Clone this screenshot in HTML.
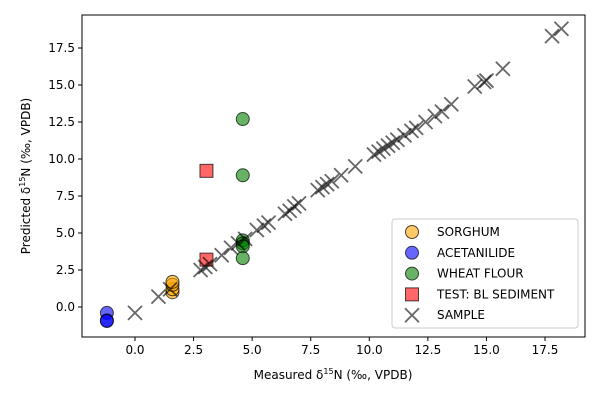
<!DOCTYPE html>
<html><head><meta charset="utf-8"><style>
body{margin:0;background:#fff;font-family:"Liberation Sans","DejaVu Sans",sans-serif}
svg text{font-family:"DejaVu Sans","Liberation Sans",sans-serif;font-size:12px;fill:#000}
</style></head><body>
<svg id="chart" width="600" height="400">
<g id="plot"></g>
</svg>
<script>
const sampleX=[0,1.0,1.5,2.8,3.0,3.2,3.7,4.1,4.4,4.7,5.2,5.5,5.7,6.4,6.6,6.8,7.0,7.8,8.0,8.2,8.4,8.8,9.4,10.2,10.4,10.6,10.8,11.0,11.2,11.5,11.8,12.0,12.4,12.8,13.1,13.5,14.5,14.9,15.0,15.7,17.8,18.2];
const sampleY=[-0.4,0.7,1.2,2.5,2.7,2.9,3.5,4.0,4.3,4.6,5.2,5.5,5.7,6.3,6.5,6.8,7.0,7.9,8.1,8.3,8.5,8.9,9.5,10.3,10.5,10.7,10.9,11.1,11.3,11.6,11.9,12.1,12.5,12.9,13.2,13.7,14.9,15.2,15.3,16.1,18.3,18.8];
const sorghumX=[1.6,1.6,1.6,1.6], sorghumY=[1.0,1.2,1.5,1.7];
const acetX=[-1.2,-1.2,-1.2], acetY=[-0.4,-0.9,-0.95];
const wheatX=[4.6,4.6,4.6,4.6,4.6,4.6], wheatY=[12.7,8.9,4.5,4.3,4.1,3.3];
const testX=[3.05,3.05], testY=[9.2,3.2];
const xTicks=[0,2.5,5,7.5,10,12.5,15,17.5], yTicks=[0,2.5,5,7.5,10,12.5,15,17.5];
const L=82,R=585,T=15,B=337;
const sx=v=>135+v*23.43, sy=v=>307-v*14.8;
const g=document.getElementById('plot'), NS='http://www.w3.org/2000/svg';
function mk(tag,a,p){const e=document.createElementNS(NS,tag);for(const k in a)e.setAttribute(k,a[k]);(p||g).appendChild(e);return e;}
function circ(x,y,c,p,name){const e=mk('circle',{cx:x,cy:y,r:6.5,fill:c,'fill-opacity':0.6,stroke:'#000','stroke-opacity':0.7,'stroke-width':1},p);return e;}
function sq(x,y,p,name){const e=mk('rect',{x:x-6.5,y:y-6.5,width:13,height:13,fill:'#ff0000','fill-opacity':0.6,stroke:'#000','stroke-opacity':0.7},p);return e;}
function cross(x,y,p,name){const e=mk('path',{d:`M${x-7},${y-7}L${x+7},${y+7}M${x-7},${y+7}L${x+7},${y-7}`,stroke:'#000','stroke-opacity':0.6,'stroke-width':1.8},p);return e;}
sorghumX.forEach((v,i)=>circ(sx(v),sy(sorghumY[i]),'orange',g,'sorghum-point'));
acetX.forEach((v,i)=>circ(sx(v),sy(acetY[i]),'blue',g,'acetanilide-point'));
wheatX.forEach((v,i)=>circ(sx(v),sy(wheatY[i]),'green',g,'wheat-flour-point'));
testX.forEach((v,i)=>sq(sx(v),sy(testY[i]),g,'test-sediment-point'));
sampleX.forEach((v,i)=>cross(sx(v),sy(sampleY[i]),g,'sample-point'));
let f=mk('rect',{x:L,y:T,width:R-L,height:B-T,fill:'none',stroke:'#000','stroke-width':1});

xTicks.forEach(v=>{const x=sx(v);mk('line',{x1:x,x2:x,y1:B,y2:B+4,stroke:'#000'});const t=mk('text',{x:x,y:B+17,'text-anchor':'middle'});t.textContent=v.toFixed(1);});
yTicks.forEach(v=>{const y=sy(v);mk('line',{x1:L-4,x2:L,y1:y,y2:y,stroke:'#000'});const t=mk('text',{x:L-7,y:y+4,'text-anchor':'end'});t.textContent=v.toFixed(1);});
let xt=mk('text',{x:333,y:379,'text-anchor':'middle'});xt.innerHTML='Measured δ<tspan dy="-5" font-size="8">15</tspan><tspan dy="5">N (‰, VPDB)</tspan>';

let yt=mk('text',{x:0,y:0,'text-anchor':'middle',transform:'translate(30,176) rotate(-90)'});yt.innerHTML='Predicted δ<tspan dy="-5" font-size="8">15</tspan><tspan dy="5">N (‰, VPDB)</tspan>';

const lg=mk('g',{});
mk('rect',{x:392,y:219,width:186,height:109,rx:3,fill:'#fff','fill-opacity':0.8,stroke:'#ccc'},lg);
const items=[['SORGHUM','orange'],['ACETANILIDE','blue'],['WHEAT FLOUR','green'],['TEST: BL SEDIMENT','sq'],['SAMPLE','x']];
items.forEach((it,i)=>{const y=232+i*20.8;const ent=mk('g',{},lg);
 if(it[1]=='sq')sq(412,y,ent,'legend-marker');else if(it[1]=='x')cross(412,y,ent,'legend-marker');else circ(412,y,it[1],ent,'legend-marker');
 const t=mk('text',{x:437,y:y+4},ent);t.textContent=it[0];});
</script>
</body></html>
